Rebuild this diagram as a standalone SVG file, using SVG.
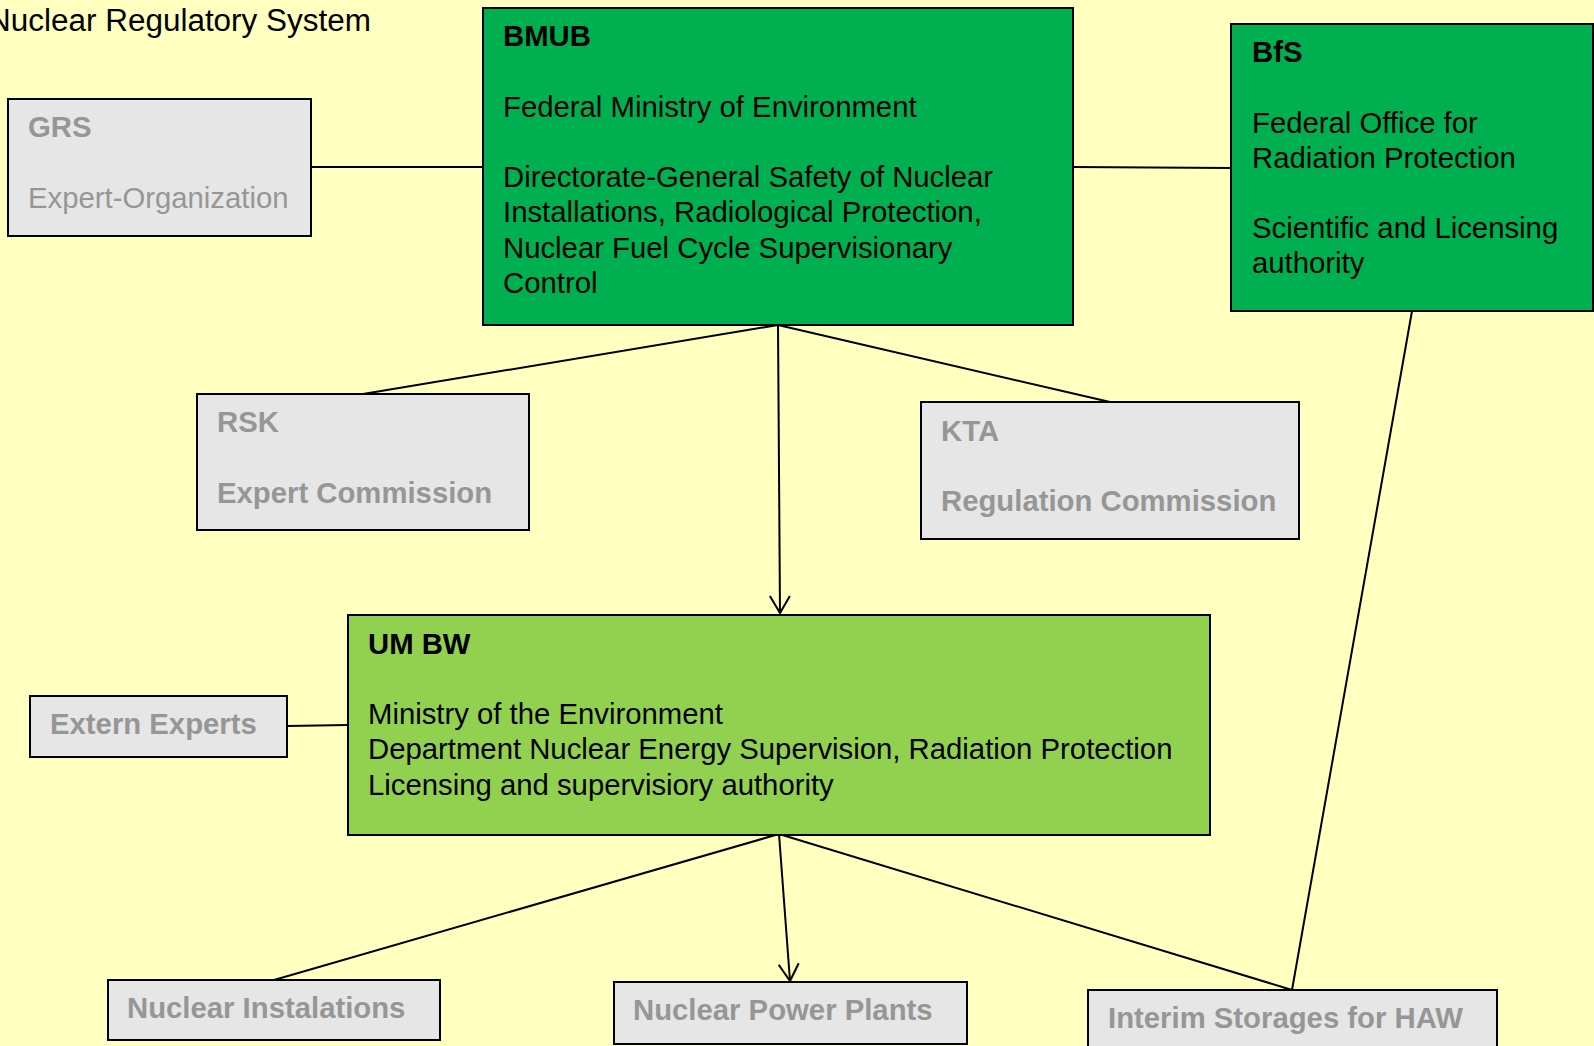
<svg xmlns="http://www.w3.org/2000/svg" width="1594" height="1046" viewBox="0 0 1594 1046">
<style>
.box{stroke:#000;stroke-width:2}
.dark{fill:#00B050}
.light{fill:#92D050}
.grey{fill:#E6E6E6}
text{font-family:"Liberation Sans",Arial,sans-serif;font-size:29.3px}
.t{fill:#000}
.g{fill:#969696}
.b{font-weight:bold}
.conn{stroke:#000;stroke-width:2;fill:none}
</style>
<defs>
<marker id="arr" markerUnits="userSpaceOnUse" viewBox="0 0 20 22" refX="18" refY="11" markerWidth="20" markerHeight="22" orient="auto">
<path d="M1,1 L18,11 L1,21" fill="none" stroke="#000" stroke-width="2"/>
</marker>
</defs>
<rect width="1594" height="1046" fill="#FFFFC0"/>
<text id="title" class="t" x="-12" y="31" textLength="383" lengthAdjust="spacingAndGlyphs" style="font-size:31px">Nuclear Regulatory System</text>
<g id="connectors">
<line class="conn" x1="311" y1="167" x2="483" y2="167"/>
<line class="conn" x1="1073" y1="167" x2="1231" y2="168"/>
<line class="conn" x1="778" y1="325" x2="363" y2="394"/>
<line class="conn" x1="778" y1="325" x2="1110" y2="402"/>
<line class="conn" x1="778" y1="325" x2="780" y2="613" marker-end="url(#arr)"/>
<line class="conn" x1="287" y1="726" x2="348" y2="725"/>
<line class="conn" x1="779" y1="834" x2="274" y2="980"/>
<line class="conn" x1="779" y1="834" x2="790" y2="981" marker-end="url(#arr)"/>
<line class="conn" x1="779" y1="834" x2="1292" y2="990"/>
<line class="conn" x1="1412" y1="311" x2="1292" y2="990"/>
</g>
<g id="grs">
<rect class="box grey" x="8" y="99" width="303" height="137"/>
<text class="g b" x="28" y="137">GRS</text>
<text class="g" x="28" y="208">Expert-Organization</text>
</g>
<g id="bmub">
<rect class="box dark" x="483" y="8" width="590" height="317"/>
<text class="t b" x="503" y="46">BMUB</text>
<text class="t" x="503" y="117">Federal Ministry of Environment</text>
<text class="t" x="503" y="187">Directorate-General Safety of Nuclear</text>
<text class="t" x="503" y="222">Installations, Radiological Protection,</text>
<text class="t" x="503" y="258">Nuclear Fuel Cycle Supervisionary</text>
<text class="t" x="503" y="293">Control</text>
</g>
<g id="bfs">
<rect class="box dark" x="1231" y="24" width="362" height="287"/>
<text class="t b" x="1252" y="62">BfS</text>
<text class="t" x="1252" y="133">Federal Office for</text>
<text class="t" x="1252" y="168">Radiation Protection</text>
<text class="t" x="1252" y="238">Scientific and Licensing</text>
<text class="t" x="1252" y="273">authority</text>
</g>
<g id="rsk">
<rect class="box grey" x="197" y="394" width="332" height="136"/>
<text class="g b" x="217" y="432">RSK</text>
<text class="g b" x="217" y="503">Expert Commission</text>
</g>
<g id="kta">
<rect class="box grey" x="921" y="402" width="378" height="137"/>
<text class="g b" x="941" y="441">KTA</text>
<text class="g b" x="941" y="511">Regulation Commission</text>
</g>
<g id="umbw">
<rect class="box light" x="348" y="615" width="862" height="220"/>
<text class="t b" x="368" y="654">UM BW</text>
<text class="t" x="368" y="724">Ministry of the Environment</text>
<text class="t" x="368" y="759">Department Nuclear Energy Supervision, Radiation Protection</text>
<text class="t" x="368" y="795">Licensing and supervisiory authority</text>
</g>
<g id="extern">
<rect class="box grey" x="30" y="696" width="257" height="61"/>
<text class="g b" x="50" y="734">Extern Experts</text>
</g>
<g id="instal">
<rect class="box grey" x="108" y="980" width="332" height="60"/>
<text class="g b" x="127" y="1018">Nuclear Instalations</text>
</g>
<g id="npp">
<rect class="box grey" x="614" y="982" width="353" height="62"/>
<text class="g b" x="633" y="1020">Nuclear Power Plants</text>
</g>
<g id="haw">
<rect class="box grey" x="1088" y="990" width="409" height="70"/>
<text class="g b" x="1108" y="1028">Interim Storages for HAW</text>
</g>
</svg>
